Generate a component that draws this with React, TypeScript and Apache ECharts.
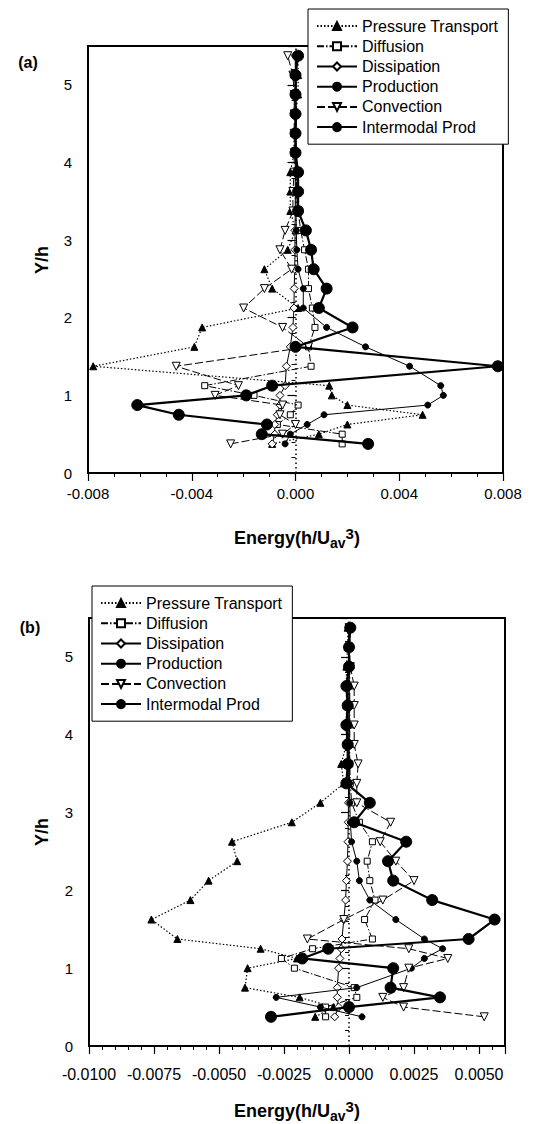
import React, { useEffect, useRef } from 'react';
import * as echarts from 'echarts';

const FONT = '"Liberation Sans", Arial, Helvetica, sans-serif';

// ---------- Panel (a) data ----------
const yLevelsA = [0.375, 0.5, 0.625, 0.75, 0.875, 1.0, 1.125, 1.375, 1.625, 1.875, 2.125, 2.375, 2.625, 2.875, 3.125, 3.375, 3.625, 3.875, 4.125, 4.375, 4.625, 4.875, 5.125, 5.375];
const pressureA = [-0.0009, 0.0009, 0.0020, 0.0049, 0.0020, 0.0014, 0.0013, -0.0078, -0.0039, -0.0036, 0.0001, -0.0009, -0.0012, -0.0003, 0.0000, -0.0002, -0.0002, -0.0002, -0.00005, -0.00005, 0.0000, 0.0001, 0.0001, 0.0001];
const diffusionA = [0.0018, 0.0018, -0.0007, -0.0002, 0.0001, -0.0016, -0.0035, 0.0006, 0.0005, 0.00075, 0.00065, 0.0005, 0.0005, 0.00035, 0.0002, 0.0001, 0.00005, 0.00003, 0.00003, 0.00003, 0.00003, 0.00003, 0.00003, 0.00003];
const dissipationA = [-0.0009, -0.0008, -0.0008, -0.0007, -0.0006, -0.0006, -0.0004, -0.00035, -0.0002, -0.0001, -0.00006, -0.00005, -0.00003, -0.00002, -0.00002, -0.00001, -0.00001, -0.00001, -0.00001, -0.00001, -0.00001, -0.00001, -0.00001, -0.00001];
const productionA = [-0.0004, -0.0002, 0.00045, 0.0011, 0.0051, 0.0057, 0.0056, 0.0044, 0.0027, 0.0012, 0.0003, 0.0003, 0.0001, 0.00005, 0.00003, 0.00002, 0.00002, 0.00002, 0.00001, 0.00001, 0.00001, 0.00001, 0.00001, 0.00001];
const convectionA = [-0.0025, -0.0005, 0.0000, -0.0006, -0.0005, -0.0031, -0.0022, -0.0046, 0.0005, -0.0005, -0.0020, -0.0012, -0.00015, -0.0006, -0.0004, -0.0001, -0.0001, -0.00005, -0.00005, -0.00005, -0.00005, -0.00005, -0.0001, -0.0003];
const intermodalA = [0.0028, -0.0013, -0.0011, -0.0045, -0.0061, -0.0019, -0.0009, 0.0078, 0.0000, 0.0022, 0.0009, 0.0012, 0.0007, 0.0006, 0.0004, 0.0001, 0.0001, 0.0001, 0.0000, 0.0000, 0.0000, 0.0000, 0.0000, 0.0001];

// ---------- Panel (b) data ----------
const yLevelsB = [0.375, 0.5, 0.625, 0.75, 1.0, 1.125, 1.25, 1.375, 1.625, 1.875, 2.125, 2.375, 2.625, 2.875, 3.125, 3.375, 3.625, 3.875, 4.125, 4.375, 4.625, 4.875, 5.125, 5.375];
const pressureB = [-0.0013, -0.0006, -0.0019, -0.0040, -0.0039, -0.0020, -0.0034, -0.0066, -0.0076, -0.0061, -0.0054, -0.0043, -0.0045, -0.0022, -0.0011, -0.0002, -0.0003, -0.0001, -0.0001, -0.0001, -0.0001, -0.0001, -0.00005, -0.00005];
const diffusionB = [-0.0009, -0.0009, 0.0003, 0.0002, -0.0021, -0.0026, -0.0014, 0.0009, 0.0006, 0.0010, 0.0008, 0.0007, 0.0009, 0.0004, 0.0001, 0.00005, 0.00003, 0.00003, 0.00003, 0.00003, 0.00003, 0.00003, 0.00003, 0.00003];
const dissipationB = [-0.00055, -0.0004, -0.00045, -0.00045, -0.0004, -0.00035, -0.0003, -0.00027, -0.0002, -0.00013, -0.0001, -0.00006, -0.00004, -0.00003, -0.00002, -0.00002, -0.00001, -0.00001, -0.00001, -0.00001, -0.00001, -0.00001, -0.00001, -0.00001];
const productionB = [0.0005, -0.0011, -0.0028, 0.0003, 0.0024, 0.0029, 0.0036, 0.0029, 0.0018, 0.0008, 0.0004, 0.0003, 0.0001, 0.00005, 0.00003, 0.00002, 0.00001, 0.00001, 0.00001, 0.00001, 0.00001, 0.00001, 0.00001, 0.00001];
const convectionB = [0.0052, 0.0021, 0.0013, 0.0021, 0.0023, 0.0038, 0.0023, -0.0016, -0.0002, 0.0013, 0.0025, 0.0018, 0.0012, 0.0016, 0.0003, 0.0003, 0.00035, 0.0002, 0.0002, 0.0002, 0.0002, 0.00005, 0.0000, 0.0000];
const intermodalB = [-0.0030, 0.0000, 0.0035, 0.0016, 0.0017, -0.0018, -0.0008, 0.0046, 0.0056, 0.0032, 0.0017, 0.0015, 0.0022, 0.0002, 0.0008, -0.0001, -0.00005, -0.00005, -0.0001, -0.00005, -0.0001, 0.0000, 0.0000, 0.00005];

const seriesNames = ['Pressure Transport', 'Diffusion', 'Dissipation', 'Production', 'Convection', 'Intermodal Prod'];
const zeroLineX = 0;

const STYLE: Record<string, any> = {
  'Pressure Transport': { symbol: 'triangle', size: 7, rotate: 0, fill: '#000', width: 1.2, type: [1.5, 2] },
  'Diffusion': { symbol: 'rect', size: 6, rotate: 0, fill: '#fff', width: 1, type: [7, 2, 1.5, 2] },
  'Dissipation': { symbol: 'diamond', size: 8, rotate: 0, fill: '#fff', width: 1, type: 'solid' },
  'Production': { symbol: 'circle', size: 6, rotate: 0, fill: '#000', width: 1, type: 'solid' },
  'Convection': { symbol: 'triangle', size: 8, rotate: 180, fill: '#fff', width: 1, type: [8, 3] },
  'Intermodal Prod': { symbol: 'circle', size: 11, rotate: 0, fill: '#000', width: 2.2, type: 'solid' },
};

interface PanelCfg {
  label: string;
  ys: number[];
  values: number[][];
  xMin: number; xMax: number; xMajor: number; xMinor: number; xDigits: number;
  grid: { left: number; right: number; top: number; bottom: number };
  legendLeft: number; legendTop: number;
  xLabelMargin: number; xLabelSize: number;
  titleY: number; yTitleY: number; labelPos: [number, number];
}

function buildOption(c: PanelCfg) {
  const isMajor = (v: number) => Math.abs(v / c.xMajor - Math.round(v / c.xMajor)) < 1e-6;
  const series: any[] = seriesNames.map((name, k) => {
    const s = STYLE[name];
    const vals = c.values[k];
    const ser: any = {
      type: 'line',
      name,
      xAxisIndex: 0,
      yAxisIndex: 0,
      data: c.ys.map((y, i) => [vals[i], y]),
      symbol: s.symbol,
      symbolSize: s.size,
      symbolRotate: s.rotate,
      showSymbol: true,
      lineStyle: { color: '#000', width: s.width, type: s.type },
      itemStyle: { color: s.fill, borderColor: '#000', borderWidth: 1 },
      emphasis: { disabled: true },
      z: 3 + k,
    };
    if (k === 0) {
      ser.markLine = {
        silent: true,
        symbol: 'none',
        label: { show: false },
        lineStyle: { color: '#000', width: 1.5, type: [1.5, 3] },
        data: [{ xAxis: zeroLineX }],
      };
    }
    return ser;
  });

  return {
    animation: false,
    grid: { ...c.grid, show: true, borderColor: '#000', borderWidth: 2, backgroundColor: 'transparent' },
    xAxis: [
      {
        type: 'value', position: 'bottom', min: c.xMin, max: c.xMax, interval: c.xMajor,
        axisLine: { show: false },
        axisTick: { show: true, inside: false, length: 8, lineStyle: { color: '#000', width: 1.2 } },
        axisLabel: {
          show: true, margin: c.xLabelMargin, fontSize: c.xLabelSize, color: '#000', fontFamily: FONT,
          formatter: (v: number) => (isMajor(v) ? v.toFixed(c.xDigits) : ''),
        },
        splitLine: { show: false },
      },
      {
        type: 'value', position: 'bottom', min: c.xMin, max: c.xMax, interval: c.xMinor,
        axisLine: { show: false },
        axisTick: { show: true, inside: false, length: 4, lineStyle: { color: '#000', width: 1 } },
        axisLabel: { show: false },
        splitLine: { show: false },
      },
    ],
    yAxis: [
      {
        type: 'value', position: 'left', min: 0, max: 5.5, interval: 1,
        axisLine: { show: false },
        axisTick: { show: true, inside: false, length: 8, lineStyle: { color: '#000', width: 1.2 } },
        axisLabel: {
          show: true, margin: 16, fontSize: 15, color: '#000', fontFamily: FONT,
          formatter: (v: number) => (Math.abs(v - Math.round(v)) < 1e-6 ? String(Math.round(v)) : ''),
        },
        splitLine: { show: false },
      },
      {
        type: 'value', position: 'left', min: 0, max: 5.5, interval: 0.2,
        axisLine: { show: false },
        axisTick: { show: true, inside: false, length: 4, lineStyle: { color: '#000', width: 1 } },
        axisLabel: { show: false },
        splitLine: { show: false },
      },
    ],
    legend: {
      orient: 'vertical',
      left: c.legendLeft,
      top: c.legendTop,
      padding: [7, 10, 7, 8],
      itemWidth: 40,
      itemHeight: 10,
      itemGap: 0,
      backgroundColor: '#fff',
      borderColor: '#000',
      borderWidth: 1,
      selectedMode: false,
      textStyle: { fontSize: 16, color: '#000', fontFamily: FONT, lineHeight: 20.2 },
      data: seriesNames,
      z: 20,
    },
    graphic: [
      {
        type: 'text', x: c.labelPos[0], y: c.labelPos[1], z: 30,
        style: { text: c.label, font: `bold 16px ${FONT}`, fill: '#000', align: 'center', verticalAlign: 'middle' },
      },
      {
        type: 'text', x: 42, y: c.yTitleY, rotation: Math.PI / 2, z: 30,
        style: { text: 'Y/h', font: `bold 18px ${FONT}`, fill: '#000', align: 'center', verticalAlign: 'middle' },
      },
      {
        type: 'text', x: 297, y: c.titleY, z: 30,
        style: {
          text: '{b|Energy(h/U}{s|av}{p|3}{b|)}',
          align: 'center',
          verticalAlign: 'middle',
          rich: {
            b: { fontSize: 18, fontWeight: 'bold', fontFamily: FONT, fill: '#000', lineHeight: 24, verticalAlign: 'middle' },
            s: { fontSize: 14, fontWeight: 'bold', fontFamily: FONT, fill: '#000', lineHeight: 14, verticalAlign: 'bottom' },
            p: { fontSize: 15, fontWeight: 'bold', fontFamily: FONT, fill: '#000', lineHeight: 15, verticalAlign: 'top' },
          },
        },
      },
    ],
    series,
  };
}

const panelA: PanelCfg = {
  label: '(a)',
  ys: yLevelsA,
  values: [pressureA, diffusionA, dissipationA, productionA, convectionA, intermodalA],
  xMin: -0.008, xMax: 0.008, xMajor: 0.004, xMinor: 0.001, xDigits: 3,
  grid: { left: 88, right: 34, top: 46, bottom: 89 },
  legendLeft: 308, legendTop: 9,
  xLabelMargin: 13, xLabelSize: 15,
  titleY: 538, yTitleY: 260, labelPos: [28, 62],
};

const panelB: PanelCfg = {
  label: '(b)',
  ys: yLevelsB,
  values: [pressureB, diffusionB, dissipationB, productionB, convectionB, intermodalB],
  xMin: -0.01, xMax: 0.006, xMajor: 0.0025, xMinor: 0.0005, xDigits: 4,
  grid: { left: 89, right: 32, top: 56, bottom: 78 },
  legendLeft: 92, legendTop: 24,
  xLabelMargin: 20, xLabelSize: 16,
  titleY: 549, yTitleY: 270, labelPos: [30, 65],
};

function Panel({ cfg }: { cfg: PanelCfg }) {
  const ref = useRef<HTMLDivElement>(null);
  useEffect(() => {
    if (!ref.current) return;
    const chart = echarts.init(ref.current, undefined, { renderer: 'svg' });
    chart.setOption(buildOption(cfg) as any);
    return () => chart.dispose();
  }, [cfg]);
  return <div ref={ref} style={{ width: 537, height: 562 }} />;
}

export default function App() {
  return (
    <div style={{ position: 'absolute', left: 0, top: 0, width: 537, height: 1124, background: '#fff' }}>
      <Panel cfg={panelA} />
      <Panel cfg={panelB} />
    </div>
  );
}
